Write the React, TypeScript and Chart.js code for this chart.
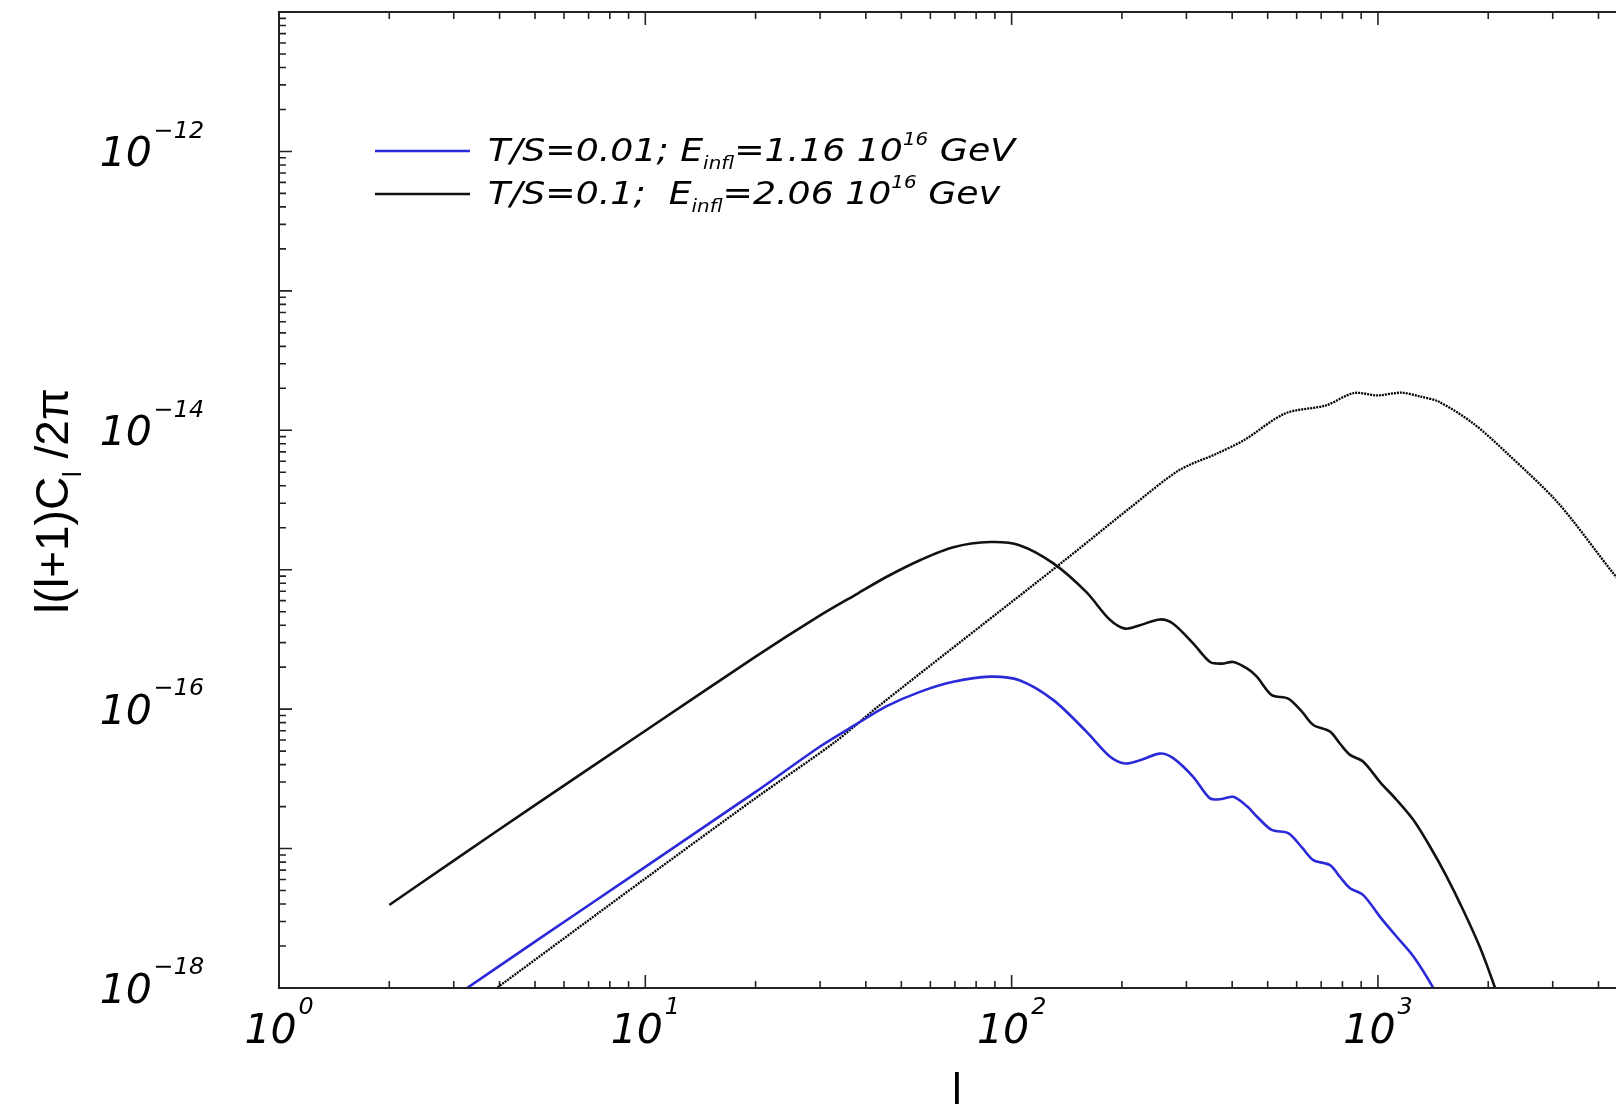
import React, { useEffect, useRef } from 'react';
import { Chart, registerables } from 'chart.js';

Chart.register(...registerables);

// Multipoles l and l(l+1)C_l/2π for T/S = 0.1 (black solid)
const L_TS01 = [2, 3, 5, 10, 20, 30, 38, 45.6, 56.2, 69.3, 87.3, 105, 130, 160, 185, 204, 224, 254, 276, 313, 348, 375, 403, 440, 467, 513, 569, 620, 666, 740, 790, 839, 912, 1013, 1125, 1250, 1388, 1540, 1711, 1900, 2088, 2180];
const CL_TS01 = [3.94e-18, 8.2e-18, 2.05e-17, 7.0e-17, 2.38e-16, 4.7e-16, 6.75e-16, 8.9e-16, 1.17e-15, 1.45e-15, 1.58e-15, 1.5e-15, 1.11e-15, 6.9e-16, 4.4e-16, 3.78e-16, 4.0e-16, 4.4e-16, 4.1e-16, 2.96e-16, 2.18e-16, 2.12e-16, 2.18e-16, 1.95e-16, 1.71e-16, 1.26e-16, 1.19e-16, 9.6e-17, 7.7e-17, 6.9e-17, 5.6e-17, 4.7e-17, 4.2e-17, 3.0e-17, 2.23e-17, 1.6e-17, 1.03e-17, 6.3e-18, 3.6e-18, 1.95e-18, 1.0e-18, 7.0e-19];

// T/S = 0.01 (blue)
const L_TS001 = [2, 3, 5, 10, 20, 30, 38, 45.6, 56.2, 69.3, 87.3, 105, 130, 160, 185, 204, 224, 254, 276, 313, 348, 375, 403, 440, 467, 513, 569, 620, 666, 740, 790, 839, 912, 1013, 1125, 1250, 1416, 1480];
const CL_TS001 = [4.1e-19, 8.6e-19, 2.15e-18, 7.4e-18, 2.55e-17, 5.4e-17, 7.9e-17, 1.05e-16, 1.33e-16, 1.57e-16, 1.71e-16, 1.61e-16, 1.16e-16, 6.9e-17, 4.6e-17, 4.08e-17, 4.3e-17, 4.8e-17, 4.45e-17, 3.27e-17, 2.29e-17, 2.27e-17, 2.35e-17, 2.0e-17, 1.7e-17, 1.36e-17, 1.29e-17, 1.02e-17, 8.27e-18, 7.6e-18, 6.2e-18, 5.2e-18, 4.64e-18, 3.24e-18, 2.33e-18, 1.68e-18, 1.0e-18, 7.8e-19];

// Dotted reference spectrum
const L_DOTTED = [3.5, 3.93, 10, 20, 32.9, 43.7, 135.6, 212, 286.6, 363, 431, 558, 722, 858, 997, 1159, 1300, 1468, 1820, 2257, 3114, 4467, 5000];
const CL_DOTTED = [8e-19, 1.0e-18, 6.1e-18, 2.3e-17, 5.8e-17, 1.07e-16, 1.1e-15, 2.82e-15, 5.17e-15, 6.8e-15, 8.5e-15, 1.32e-14, 1.51e-14, 1.85e-14, 1.78e-14, 1.86e-14, 1.75e-14, 1.6e-14, 1.12e-14, 6.8e-15, 2.98e-15, 8.9e-16, 6.5e-16];

// Axis ranges and labelled decades
const X_MIN = 1;
const X_MAX = 5000;
const Y_MIN = 1e-18;
const Y_MAX = 1e-11;
const X_TICK_EXPONENTS = [0, 1, 2, 3];
const Y_TICK_EXPONENTS = [-18, -16, -14, -12];

const X_TITLE = 'l';
const Y_TITLE_MAIN = 'l(l+1)C';
const Y_TITLE_SUB = 'l';
const Y_TITLE_TAIL = ' /2π';

type Seg = { text: string; scale?: number; rise?: number };

const LEGEND_ROWS: { dataset: number; segs: Seg[] }[] = [
  {
    dataset: 0,
    segs: [
      { text: 'T/S=0.01; E' },
      { text: 'infl', scale: 0.55, rise: -0.25 },
      { text: '=1.16 10' },
      { text: '16', scale: 0.55, rise: 0.5 },
      { text: ' GeV' },
    ],
  },
  {
    dataset: 1,
    segs: [
      { text: 'T/S=0.1;  E' },
      { text: 'infl', scale: 0.55, rise: -0.25 },
      { text: '=2.06 10' },
      { text: '16', scale: 0.55, rise: 0.5 },
      { text: ' Gev' },
    ],
  },
];

const BLUE = '#2a2ad8';
const BLACK = '#111111';
const AXIS = '#222222';
const FONT = '"DejaVu Sans", "Liberation Sans", sans-serif';
const TITLE_FONT = '"Liberation Sans", Arial, sans-serif';

const CANVAS_W = 1660;
const CANVAS_H = 1107;
const PLOT_LEFT = 279;
const PLOT_TOP = 12;
const PLOT_BOTTOM = 988;
const PLOT_RIGHT = 1634;

function richWidth(ctx: CanvasRenderingContext2D, segs: Seg[], size: number, style: string, family: string) {
  let w = 0;
  for (const s of segs) {
    ctx.font = `${style} ${size * (s.scale ?? 1)}px ${family}`;
    w += ctx.measureText(s.text).width;
  }
  return w;
}

function drawRich(
  ctx: CanvasRenderingContext2D,
  segs: Seg[],
  x: number,
  y: number,
  size: number,
  style: string,
  align: 'left' | 'center' | 'right',
  hScale = 1,
  family = FONT,
) {
  const w = richWidth(ctx, segs, size, style, family) * hScale;
  const startX = align === 'left' ? x : align === 'center' ? x - w / 2 : x - w;
  ctx.save();
  ctx.translate(startX, y);
  ctx.scale(hScale, 1);
  ctx.textAlign = 'left';
  ctx.textBaseline = 'alphabetic';
  let px = 0;
  for (const s of segs) {
    ctx.font = `${style} ${size * (s.scale ?? 1)}px ${family}`;
    ctx.fillText(s.text, px, -(s.rise ?? 0) * size);
    px += ctx.measureText(s.text).width;
  }
  ctx.restore();
}

function powerLabel(exp: number): Seg[] {
  const e = exp < 0 ? '\u2212' + Math.abs(exp) : String(exp);
  return [{ text: '10' }, { text: ' ', scale: 0.15 }, { text: e, scale: 0.58, rise: 0.7 }];
}

const frameAndLabels = {
  id: 'frameAndLabels',
  afterDatasetsDraw(chart: any) {
    const { ctx, chartArea: a } = chart;
    const xs = chart.scales.x;
    const ys = chart.scales.y;
    ctx.save();
    ctx.fillStyle = '#000';

    // plot frame
    ctx.strokeStyle = AXIS;
    ctx.lineWidth = 2;
    ctx.strokeRect(a.left, a.top, a.right - a.left, a.bottom - a.top);

    // inward tick marks on all four sides
    const MAJOR = 13;
    const MINOR = 7;
    ctx.lineWidth = 1.6;
    ctx.beginPath();
    for (let e = Math.floor(Math.log10(X_MIN)); e <= Math.ceil(Math.log10(X_MAX)); e++) {
      for (let d = 1; d <= 9; d++) {
        const v = d * Math.pow(10, e);
        if (v < X_MIN || v > X_MAX) continue;
        const px = xs.getPixelForValue(v);
        const len = d === 1 ? MAJOR : MINOR;
        ctx.moveTo(px, a.bottom);
        ctx.lineTo(px, a.bottom - len);
        ctx.moveTo(px, a.top);
        ctx.lineTo(px, a.top + len);
      }
    }
    for (let e = Math.round(Math.log10(Y_MIN)); e <= Math.round(Math.log10(Y_MAX)); e++) {
      for (let d = 1; d <= 9; d++) {
        const v = d * Math.pow(10, e);
        if (v < Y_MIN * 0.999 || v > Y_MAX * 1.001) continue;
        const py = ys.getPixelForValue(v);
        const len = d === 1 ? MAJOR : MINOR;
        ctx.moveTo(a.left, py);
        ctx.lineTo(a.left + len, py);
        ctx.moveTo(a.right, py);
        ctx.lineTo(a.right - len, py);
      }
    }
    ctx.stroke();

    // decade labels
    for (const e of X_TICK_EXPONENTS) {
      const px = xs.getPixelForValue(Math.pow(10, e));
      drawRich(ctx, powerLabel(e), px, 1043, 41, 'italic', 'center');
    }
    for (const e of Y_TICK_EXPONENTS) {
      const py = ys.getPixelForValue(Math.pow(10, e));
      drawRich(ctx, powerLabel(e), 204, py + 15, 41, 'italic', 'right');
    }

    // axis titles
    drawRich(ctx, [{ text: X_TITLE }], 957, 1104, 44, 'normal', 'center', 1, TITLE_FONT);
    ctx.save();
    ctx.translate(68, 501);
    ctx.rotate(-Math.PI / 2);
    drawRich(
      ctx,
      [{ text: Y_TITLE_MAIN }, { text: Y_TITLE_SUB, scale: 0.55, rise: -0.28 }, { text: Y_TITLE_TAIL }],
      0,
      0,
      46,
      'normal',
      'center',
      1,
      TITLE_FONT,
    );
    ctx.restore();

    // legend
    const legendSize = 32;
    const row0W = richWidth(ctx, LEGEND_ROWS[0].segs, legendSize, 'italic', FONT);
    const hScale = (1015 - 488) / row0W;
    const rowY = [151, 194];
    LEGEND_ROWS.forEach((row, i) => {
      const ds = chart.data.datasets[row.dataset];
      ctx.strokeStyle = ds.borderColor;
      ctx.lineWidth = 2.5;
      ctx.setLineDash([]);
      ctx.beginPath();
      ctx.moveTo(375, rowY[i]);
      ctx.lineTo(470, rowY[i]);
      ctx.stroke();
      ctx.fillStyle = '#000';
      drawRich(ctx, row.segs, 488, rowY[i] + 10, legendSize, 'italic', 'left', hScale);
    });

    ctx.restore();
  },
};

export default function App() {
  const canvasRef = useRef<HTMLCanvasElement>(null);

  useEffect(() => {
    const canvas = canvasRef.current;
    if (!canvas) return;
    const toPoints = (xs: number[], ys: number[]) => xs.map((x, i) => ({ x, y: ys[i] }));
    const chart = new Chart(canvas, {
      type: 'line',
      data: {
        datasets: [
          {
            label: 'T/S=0.01',
            data: toPoints(L_TS001, CL_TS001),
            borderColor: BLUE,
            borderWidth: 2.6,
            pointRadius: 0,
            tension: 0.3,
            fill: false,
          },
          {
            label: 'T/S=0.1',
            data: toPoints(L_TS01, CL_TS01),
            borderColor: BLACK,
            borderWidth: 2.6,
            pointRadius: 0,
            tension: 0.3,
            fill: false,
          },
          {
            label: 'dotted',
            data: toPoints(L_DOTTED, CL_DOTTED),
            borderColor: '#000000',
            borderWidth: 2.3,
            borderDash: [2, 1],
            pointRadius: 0,
            tension: 0.3,
            fill: false,
          },
        ],
      },
      options: {
        responsive: false,
        animation: false,
        devicePixelRatio: 1,
        layout: {
          padding: {
            left: PLOT_LEFT,
            top: PLOT_TOP,
            right: CANVAS_W - PLOT_RIGHT,
            bottom: CANVAS_H - PLOT_BOTTOM,
          },
        },
        plugins: {
          legend: { display: false },
          tooltip: { enabled: false },
        },
        scales: {
          x: { type: 'logarithmic', min: X_MIN, max: X_MAX, display: false },
          y: { type: 'logarithmic', min: Y_MIN, max: Y_MAX, display: false },
        },
      },
      plugins: [frameAndLabels],
    } as any);
    return () => chart.destroy();
  }, []);

  return (
    <div
      style={{
        position: 'absolute',
        left: 0,
        top: 0,
        width: 1616,
        height: 1107,
        overflow: 'hidden',
        background: '#ffffff',
      }}
    >
      <canvas
        ref={canvasRef}
        width={CANVAS_W}
        height={CANVAS_H}
        style={{ display: 'block', width: CANVAS_W, height: CANVAS_H }}
      />
    </div>
  );
}
